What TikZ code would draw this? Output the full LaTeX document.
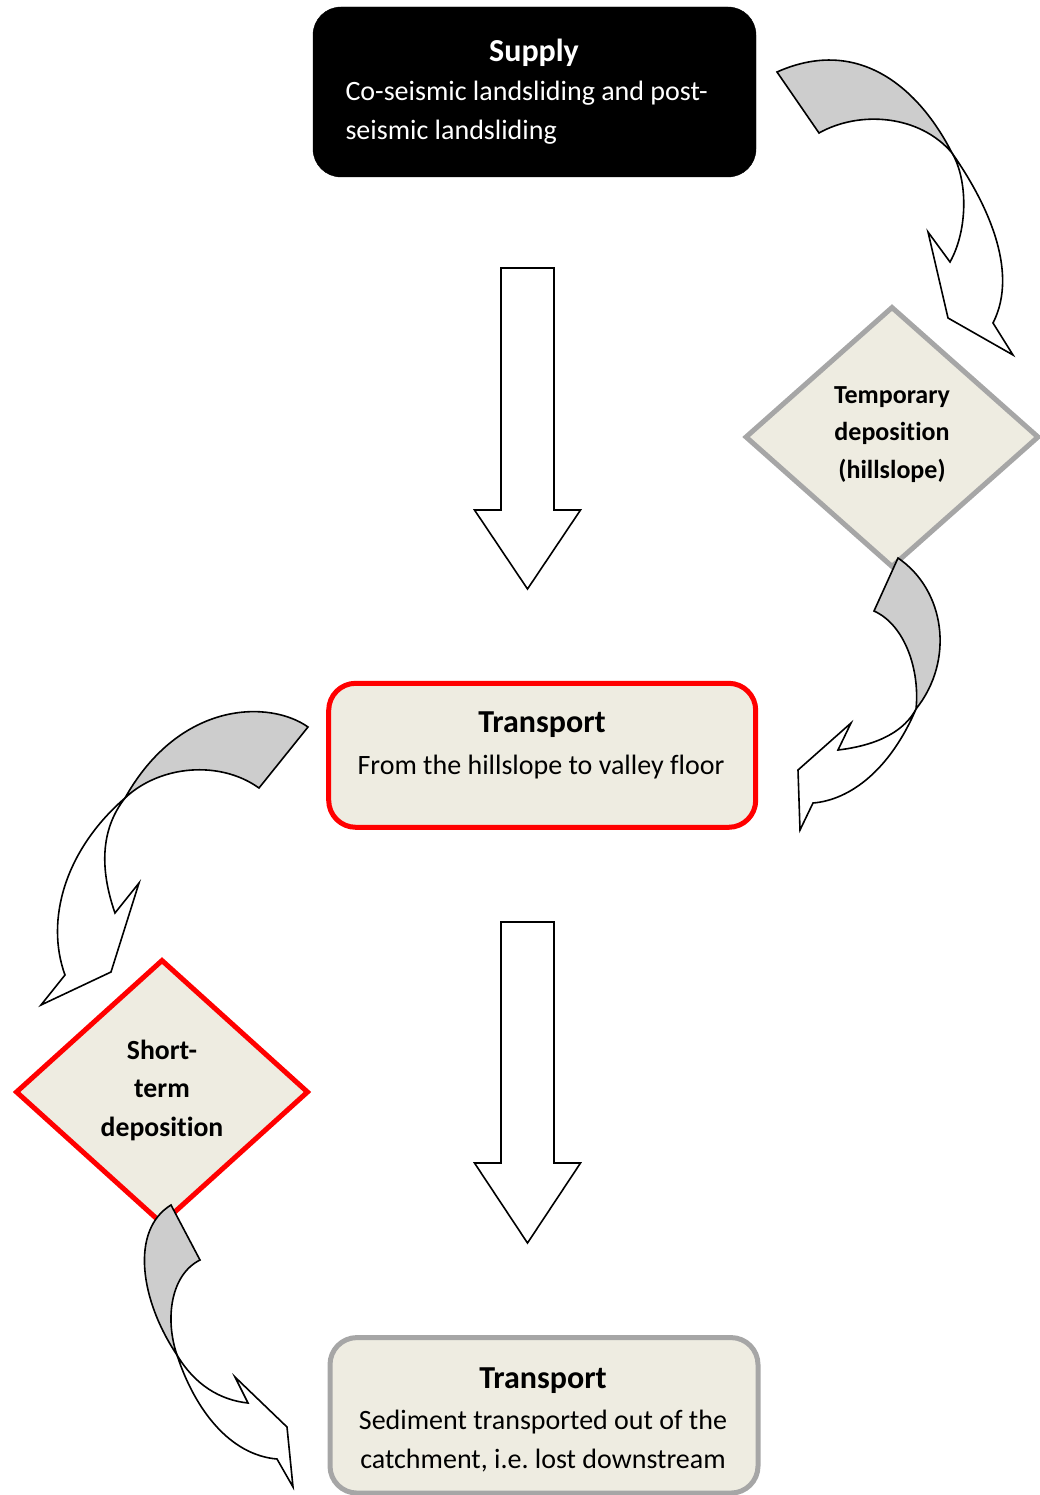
\documentclass[tikz,border=0pt]{standalone}
\usepackage{fontspec}
\setmainfont{Carlito}[Ligatures=NoCommon]
\usetikzlibrary{shapes.geometric}

\definecolor{paper}{HTML}{EEECE1}
\definecolor{frame}{HTML}{A6A6A6}
\definecolor{shade}{HTML}{CDCDCD}

\begin{document}
\frenchspacing
\begin{tikzpicture}[x=1pt, y=-1pt,
    box/.style={draw, rectangle, rounded corners=27pt, line width=5pt, fill=paper},
    rhomb/.style={draw, diamond, line width=5pt, fill=paper, inner sep=0pt},
    title/.style={font=\fontsize{32}{38}\selectfont\bfseries, anchor=base},
    body/.style={font=\fontsize{28}{39}\selectfont, anchor=base, align=center},
    flat/.style={draw=black, line width=1.6pt, fill=white},
    back/.style={draw=black, line width=1.6pt, fill=shade}]
    \useasboundingbox (0,0) rectangle (1039,1495);

    % Supply
    \node[draw=black, fill=black, rectangle, rounded corners=28pt,
        minimum width=443, minimum height=170] (supply) at (534.5,92) {};
    \node[title, text=white] (supplyhead) at (534,62) {Supply};
    \node[body, text=white, align=left, anchor=base west] (supplytext) at (342,140)
        {Co-seismic landsliding and post-\\seismic landsliding};

    % Transport to the valley floor
    \node[box, draw=red, minimum width=427, minimum height=144] (hill) at (542.2,755.3) {};
    \node[title] (hillhead) at (542,732) {Transport};
    \node[body] (hilltext) at (541,774) {From the hillslope to valley floor};

    % Transport out of the catchment
    \node[box, draw=frame, minimum width=428, minimum height=155.5] (out) at (544,1415.3) {};
    \node[title] (outhead) at (543,1388) {Transport};
    \node[body] (outtext) at (543,1468)
        {Sediment transported out of the\\catchment, i.e. lost downstream};

    % Deposition stores
    \node[rhomb, draw=frame, minimum width=294, minimum height=261] (temp) at (892,437) {};
    \node[body, font=\fontsize{26}{37.5}\selectfont\bfseries] (temptext) at (892,478)
        {Temporary\\deposition\\(hillslope)};
    \node[rhomb, draw=red, minimum width=293, minimum height=265] (short) at (162,1092) {};
    \node[body, font=\fontsize{27.7}{38.3}\selectfont\bfseries] (shorttext) at (162,1136)
        {Short-\\term\\deposition};

    % Straight block arrows
    \coordinate (down1) at (527.5,268);
    \coordinate (down2) at (527.5,922);
    \draw[flat] (down1) ++(-26.5,0) -- ++(0,242) -- ++(-26.5,0) -- ++(53,79)
        -- ++(53,-79) -- ++(-26.5,0) -- ++(0,-242) -- cycle;
    \draw[flat] (down2) ++(-26.5,0) -- ++(0,241) -- ++(-26.5,0) -- ++(53,80)
        -- ++(53,-80) -- ++(-26.5,0) -- ++(0,-241) -- cycle;

    % Curved arrow: supply to hillslope
    \draw[back] (777,72) .. controls (860,35) and (920,90) .. (952,153)
        .. controls (920,115) and (860,110) .. (819,133) -- cycle;
    \draw[flat] (952,153) .. controls (985,200) and (1020,270) .. (993,323)
        -- (1013,355) -- (948,318) -- (928,232) -- (950,262)
        .. controls (968,230) and (968,180) .. (952,153) -- cycle;

    % Curved arrow: hillslope to transport
    \draw[back] (898,558) .. controls (945,590) and (955,660) .. (916,709)
        .. controls (920,670) and (905,625) .. (874,611) -- cycle;
    \draw[flat] (916,709) .. controls (890,770) and (850,800) .. (813,803)
        -- (800,830) -- (798,770) -- (851,723) -- (838,750)
        .. controls (880,745) and (905,730) .. (916,709) -- cycle;

    % Curved arrow: transport to short-term deposition
    \draw[back] (308,727) .. controls (270,700) and (180,700) .. (125,798)
        .. controls (160,765) and (220,760) .. (259,788) -- cycle;
    \draw[flat] (125,798) .. controls (65,850) and (45,920) .. (65,975)
        -- (41,1005) -- (111,972) -- (139,883) -- (115,913)
        .. controls (100,870) and (100,830) .. (125,798) -- cycle;

    % Curved arrow: short-term deposition onwards
    \draw[back] (171,1205) .. controls (130,1230) and (140,1300) .. (177,1355)
        .. controls (165,1320) and (170,1275) .. (200,1260) -- cycle;
    \draw[flat] (177,1355) .. controls (195,1410) and (230,1455) .. (277,1459)
        -- (293,1487) -- (287,1427) -- (235,1377) -- (248,1403)
        .. controls (220,1400) and (195,1385) .. (177,1355) -- cycle;
\end{tikzpicture}
\end{document}
